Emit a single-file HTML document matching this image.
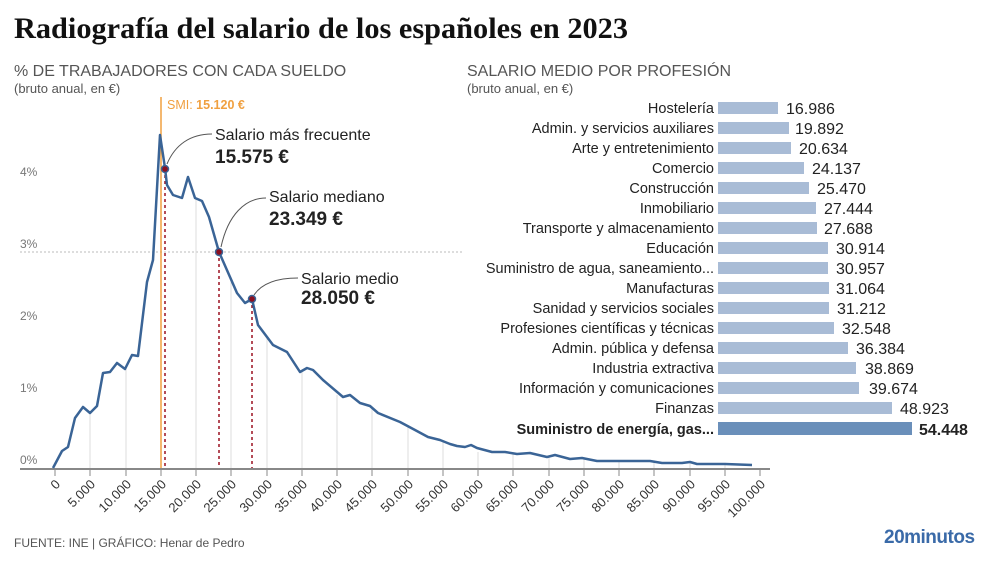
<!DOCTYPE html>
<html><head><meta charset="utf-8"><style>
body{margin:0;background:#fff;width:990px;height:556px;overflow:hidden;font-family:"Liberation Sans",sans-serif}
</style></head><body>
<svg width="990" height="556" viewBox="0 0 990 556" xmlns="http://www.w3.org/2000/svg" font-family="Liberation Sans, sans-serif">
<text x="14" y="38" font-family="Liberation Serif, serif" font-weight="bold" font-size="30" fill="#111" textLength="614" lengthAdjust="spacingAndGlyphs">Radiografía del salario de los españoles en 2023</text>
<text x="14" y="76" font-size="16" fill="#555">% DE TRABAJADORES CON CADA SUELDO</text>
<text x="14" y="93" font-size="13" fill="#555">(bruto anual, en €)</text>
<text x="467" y="76" font-size="16" fill="#555">SALARIO MEDIO POR PROFESIÓN</text>
<text x="467" y="93" font-size="13" fill="#555">(bruto anual, en €)</text>
<g font-size="12" fill="#777">
<text x="20" y="464">0%</text><text x="20" y="392">1%</text><text x="20" y="320">2%</text><text x="20" y="248">3%</text><text x="20" y="176">4%</text>
</g>
<line x1="20" y1="252" x2="462" y2="252" stroke="#bbb" stroke-dasharray="2,2"/>
<g stroke="#ddd" stroke-width="1">
<line x1="90" y1="413" x2="90" y2="468"/><line x1="126" y1="369" x2="126" y2="468"/><line x1="196" y1="198" x2="196" y2="468"/><line x1="231" y1="278" x2="231" y2="468"/><line x1="267" y1="337" x2="267" y2="468"/><line x1="302" y1="372" x2="302" y2="468"/><line x1="337" y1="395" x2="337" y2="468"/><line x1="372" y1="407" x2="372" y2="468"/><line x1="408" y1="425" x2="408" y2="468"/><line x1="443" y1="441" x2="443" y2="468"/><line x1="478" y1="452" x2="478" y2="468"/><line x1="513" y1="454" x2="513" y2="468"/><line x1="549" y1="456" x2="549" y2="468"/><line x1="584" y1="459" x2="584" y2="468"/><line x1="619" y1="461" x2="619" y2="468"/><line x1="654" y1="461" x2="654" y2="468"/><line x1="690" y1="462" x2="690" y2="468"/><line x1="725" y1="464" x2="725" y2="468"/>
</g>
<line x1="161" y1="97" x2="161" y2="469" stroke="#f0a040" stroke-width="1.5"/>
<text x="167" y="109" font-size="12.5" fill="#f0a040">SMI: <tspan font-weight="bold">15.120 €</tspan></text>
<g stroke="#9b1020" stroke-width="1.5" stroke-dasharray="3,3">
<line x1="165" y1="169" x2="165" y2="469"/><line x1="219" y1="252" x2="219" y2="469"/><line x1="252" y1="299" x2="252" y2="469"/>
</g>
<line x1="20" y1="469" x2="770" y2="469" stroke="#888" stroke-width="2"/>
<polyline fill="none" stroke="#3a6496" stroke-width="2.5" stroke-linejoin="round" points="53,468 62,451 68,447 75,418 83,407 90,413 97,406 103,373 110,372 117,363 125,369 132,355 138,356 147,282 153,260 160,135 165,168 167,185 173,195 182,198 188,177 195,198 202,201 209,217 219,252 230,277 237,293 245,303 252,299 258,325 267,337 273,345 287,352 300,372 307,368 313,370 323,380 343,397 350,395 360,403 370,406 378,413 400,422 415,430 428,437 440,440 450,444 457,446 465,447 471,445 477,448 492,452 505,452 517,454 530,453 547,457 555,455 570,459 582,458 597,461 620,461 650,461 662,463 682,463 690,462 697,464 725,464 752,465"/>
<g fill="#8b1020" stroke="#3a6496" stroke-width="1.5">
<circle cx="165" cy="169" r="3.5"/><circle cx="219" cy="252" r="3.5"/><circle cx="252" cy="299" r="3.5"/>
</g>
<g fill="none" stroke="#555" stroke-width="1">
<path d="M167,164 C175,145 190,134 212,134"/><path d="M221,247 C228,215 245,198 266,198"/><path d="M254,295 C262,283 278,278 298,278"/>
</g>
<text x="215" y="140" font-size="16" fill="#222">Salario más frecuente</text>
<text x="215" y="163" font-size="19" font-weight="bold" fill="#222">15.575 €</text>
<text x="269" y="202" font-size="16" fill="#222">Salario mediano</text>
<text x="269" y="225" font-size="19" font-weight="bold" fill="#222">23.349 €</text>
<text x="301" y="284" font-size="16" fill="#222">Salario medio</text>
<text x="301" y="304" font-size="19" font-weight="bold" fill="#222">28.050 €</text>
<g stroke="#888"><line x1="55" y1="469" x2="55" y2="476"/><line x1="90" y1="469" x2="90" y2="476"/><line x1="126" y1="469" x2="126" y2="476"/><line x1="161" y1="469" x2="161" y2="476"/><line x1="196" y1="469" x2="196" y2="476"/><line x1="231" y1="469" x2="231" y2="476"/><line x1="267" y1="469" x2="267" y2="476"/><line x1="302" y1="469" x2="302" y2="476"/><line x1="337" y1="469" x2="337" y2="476"/><line x1="372" y1="469" x2="372" y2="476"/><line x1="408" y1="469" x2="408" y2="476"/><line x1="443" y1="469" x2="443" y2="476"/><line x1="478" y1="469" x2="478" y2="476"/><line x1="513" y1="469" x2="513" y2="476"/><line x1="549" y1="469" x2="549" y2="476"/><line x1="584" y1="469" x2="584" y2="476"/><line x1="619" y1="469" x2="619" y2="476"/><line x1="654" y1="469" x2="654" y2="476"/><line x1="690" y1="469" x2="690" y2="476"/><line x1="725" y1="469" x2="725" y2="476"/><line x1="760" y1="469" x2="760" y2="476"/></g>
<g font-size="13" fill="#333" text-anchor="end">
<text transform="translate(61,485) rotate(-45)">0</text>
<text transform="translate(96,485) rotate(-45)">5.000</text>
<text transform="translate(132,485) rotate(-45)">10.000</text>
<text transform="translate(167,485) rotate(-45)">15.000</text>
<text transform="translate(202,485) rotate(-45)">20.000</text>
<text transform="translate(237,485) rotate(-45)">25.000</text>
<text transform="translate(273,485) rotate(-45)">30.000</text>
<text transform="translate(308,485) rotate(-45)">35.000</text>
<text transform="translate(343,485) rotate(-45)">40.000</text>
<text transform="translate(378,485) rotate(-45)">45.000</text>
<text transform="translate(414,485) rotate(-45)">50.000</text>
<text transform="translate(449,485) rotate(-45)">55.000</text>
<text transform="translate(484,485) rotate(-45)">60.000</text>
<text transform="translate(519,485) rotate(-45)">65.000</text>
<text transform="translate(555,485) rotate(-45)">70.000</text>
<text transform="translate(590,485) rotate(-45)">75.000</text>
<text transform="translate(625,485) rotate(-45)">80.000</text>
<text transform="translate(660,485) rotate(-45)">85.000</text>
<text transform="translate(696,485) rotate(-45)">90.000</text>
<text transform="translate(731,485) rotate(-45)">95.000</text>
<text transform="translate(766,485) rotate(-45)">100.000</text>
</g>
<text x="14" y="547" font-size="12" fill="#555">FUENTE: INE  |  GRÁFICO: Henar de Pedro</text>
<text x="884" y="543" font-size="19" font-weight="bold" fill="#3a6aa8" letter-spacing="-0.5">20minutos</text>
<g font-size="14.5" fill="#222">
<g text-anchor="end">
<text x="714" y="113">Hostelería</text><text x="714" y="133">Admin. y servicios auxiliares</text><text x="714" y="153">Arte y entretenimiento</text><text x="714" y="173">Comercio</text><text x="714" y="193">Construcción</text><text x="714" y="213">Inmobiliario</text><text x="714" y="233">Transporte y almacenamiento</text><text x="714" y="253">Educación</text><text x="714" y="273">Suministro de agua, saneamiento...</text><text x="714" y="293">Manufacturas</text><text x="714" y="313">Sanidad y servicios sociales</text><text x="714" y="333">Profesiones científicas y técnicas</text><text x="714" y="353">Admin. pública y defensa</text><text x="714" y="373">Industria extractiva</text><text x="714" y="393">Información y comunicaciones</text><text x="714" y="413">Finanzas</text><text x="714" y="434" font-weight="bold">Suministro de energía, gas...</text>
</g>
<g fill="#a9bcd6">
<rect x="718" y="102" width="60" height="12"/><rect x="718" y="122" width="71" height="12"/><rect x="718" y="142" width="73" height="12"/><rect x="718" y="162" width="86" height="12"/><rect x="718" y="182" width="91" height="12"/><rect x="718" y="202" width="98" height="12"/><rect x="718" y="222" width="99" height="12"/><rect x="718" y="242" width="110" height="12"/><rect x="718" y="262" width="110" height="12"/><rect x="718" y="282" width="111" height="12"/><rect x="718" y="302" width="111" height="12"/><rect x="718" y="322" width="116" height="12"/><rect x="718" y="342" width="130" height="12"/><rect x="718" y="362" width="138" height="12"/><rect x="718" y="382" width="141" height="12"/><rect x="718" y="402" width="174" height="12"/>
<rect x="718" y="422" width="194" height="13" fill="#6a8fba"/>
</g>
<g font-size="16">
<text x="786" y="114">16.986</text><text x="795" y="134">19.892</text><text x="799" y="154">20.634</text><text x="812" y="174">24.137</text><text x="817" y="194">25.470</text><text x="824" y="214">27.444</text><text x="824" y="234">27.688</text><text x="836" y="254">30.914</text><text x="836" y="274">30.957</text><text x="836" y="294">31.064</text><text x="837" y="314">31.212</text><text x="842" y="334">32.548</text><text x="856" y="354">36.384</text><text x="865" y="374">38.869</text><text x="869" y="394">39.674</text><text x="900" y="414">48.923</text><text x="919" y="435" font-weight="bold">54.448</text>
</g>
</g>
</svg>
</body></html>
